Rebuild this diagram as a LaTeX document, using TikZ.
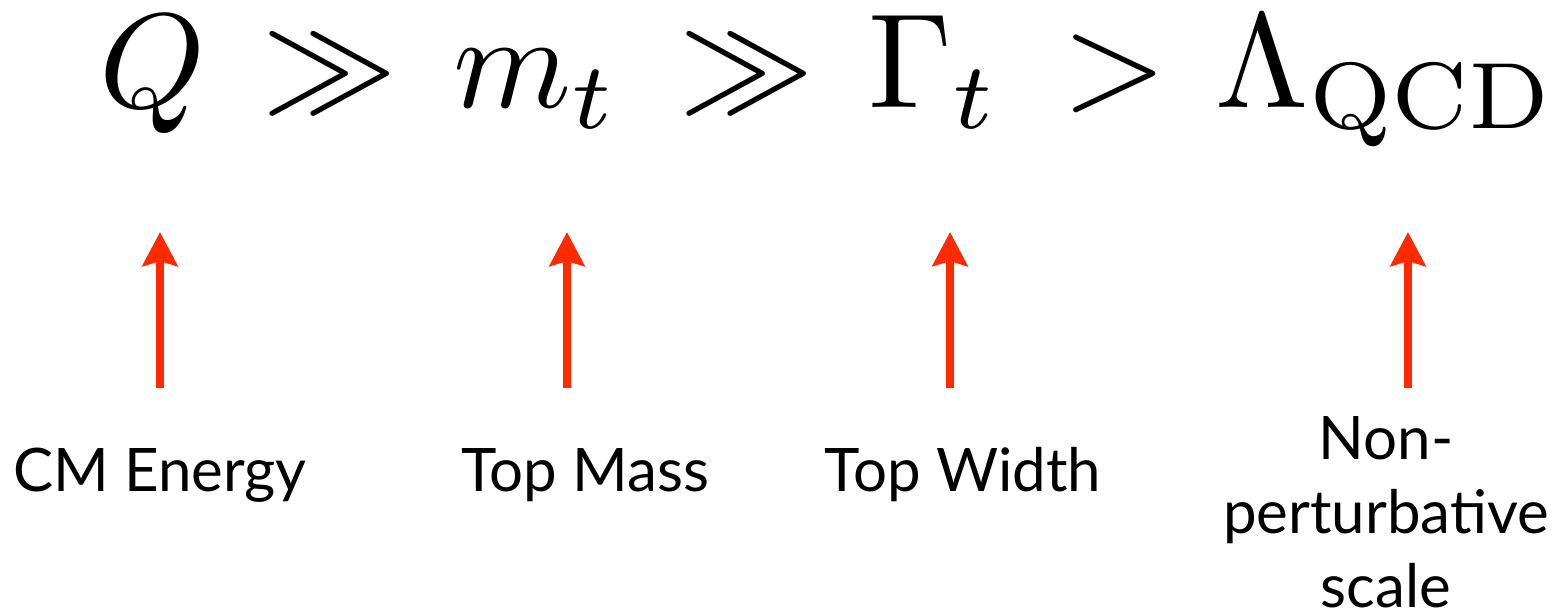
\documentclass[tikz,border=0pt]{standalone}
\usepackage[no-math]{fontspec}
\newfontfamily\labelfont{Lato}
\usetikzlibrary{arrows.meta}
\definecolor{arrred}{HTML}{FF2A00}
\begin{document}
\begin{tikzpicture}[x=1bp,y=-1bp,
  mathtxt/.style={inner sep=0pt, anchor=base, scale=13.5, transform shape},
  lbl/.style={inner sep=0pt, anchor=base, align=center, font=\labelfont\fontsize{60bp}{74bp}\selectfont},
  arr/.style={draw=arrred, line width=8bp, -{Stealth[length=34bp,width=35bp,inset=5bp,fill=arrred]}}]
\useasboundingbox (0,0) rectangle (1558,613);
% formula
\node[mathtxt] (q)   at (153,108) {$Q$};
\node[mathtxt] (gg1) at (330,108) {$\gg$};
\node[mathtxt] (mt)  at (536,108) {$m_t$};
\node[mathtxt] (gg2) at (747,108) {$\gg$};
\node[mathtxt] (gt)  at (934,108) {$\Gamma_t$};
\node[mathtxt] (gt2) at (1115,108) {$>$};
\node[mathtxt] (lq)  at (1386,108) {$\Lambda_{\mathrm{QCD}}$};
% labels
\node[lbl] (l1) at (160,491) {CM Energy};
\node[lbl] (l2) at (585,491) {Top Mass};
\node[lbl] (l3) at (963,491) {Top Width};
\node[lbl] (l4) at (1386,607) {Non-\\perturbative\\scale};
% arrows
\coordinate (s1) at (160,388); \coordinate (e1) at (160,232);
\coordinate (s2) at (567,388); \coordinate (e2) at (567,232);
\coordinate (s3) at (950,388); \coordinate (e3) at (950,232);
\coordinate (s4) at (1408,388); \coordinate (e4) at (1408,232);
\draw[arr] (s1) -- (e1);
\draw[arr] (s2) -- (e2);
\draw[arr] (s3) -- (e3);
\draw[arr] (s4) -- (e4);
\end{tikzpicture}
\end{document}
